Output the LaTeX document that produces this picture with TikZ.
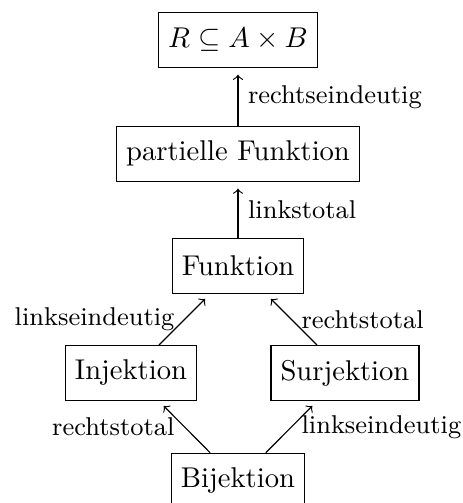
\documentclass[tikz,border=0pt]{standalone}
\usepackage{amssymb}

\begin{document}
\begin{tikzpicture}[box/.style={draw, minimum height=19.2pt},
    pfeil/.style={->, shorten >=2.4pt},
    lab/.style={font=\small}]
        \useasboundingbox (-2.925,-2.913) rectangle (2.765,3.269);
        \node[box] (R) at (0,2.78) {$R \subseteq A \times B$};
        \node[box] (P) at (0,1.38) {partielle Funktion};
        \node[box] (F) at (0,0) {Funktion};
        \node[box] (I) at (-1.315,-1.315) {Injektion};
        \node[box] (S) at (1.315,-1.315) {Surjektion};
        \node[box] (B) at (0,-2.64) {Bijektion};
        \draw[pfeil] (P) -- (R) node[lab, midway, right] (L1) {rechtseindeutig};
        \draw[pfeil] (F) -- (P) node[lab, midway, right] (L2) {linkstotal};
        \draw[pfeil] (I) -- (F) node[lab, midway, left] (L3) {linkseindeutig};
        \draw[pfeil] (S) -- (F) node[lab, midway, right] (L4) {rechtstotal};
        \draw[pfeil] (B) -- (I) node[lab, midway, left] (L5) {rechtstotal};
        \draw[pfeil] (B) -- (S) node[lab, midway, right] (L6) {linkseindeutig};
      \end{tikzpicture}
\end{document}
